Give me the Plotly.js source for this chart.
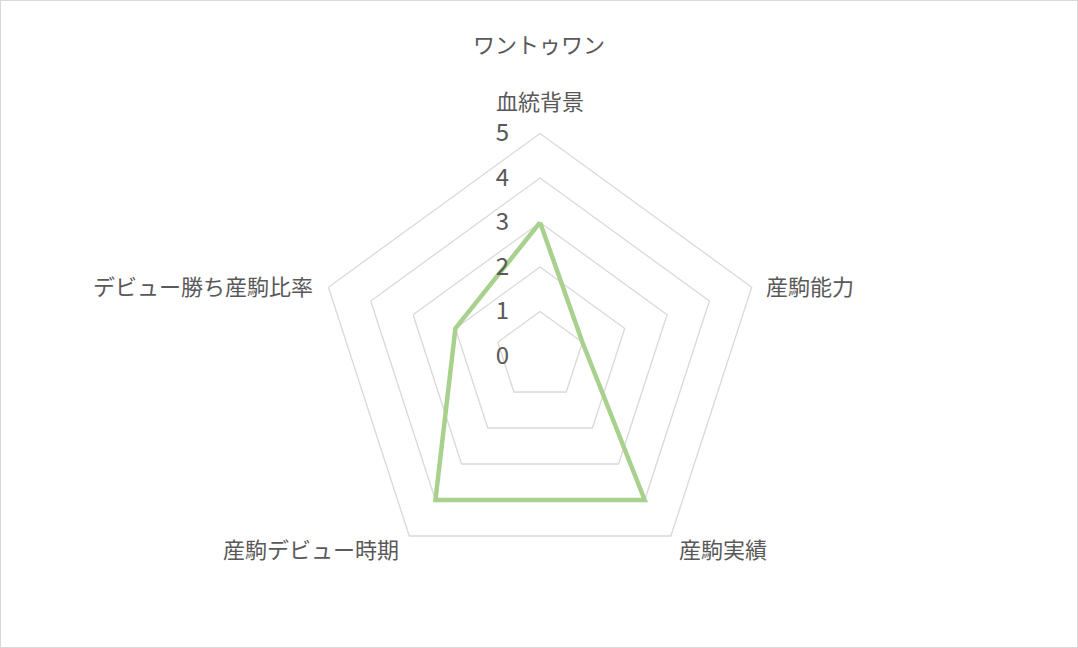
<!DOCTYPE html>
<html>
<head>
<meta charset="utf-8">
<script src="https://cdn.plot.ly/plotly-3.0.1.min.js"></script>
<style>
  html, body { margin: 0; padding: 0; background: #fff; }
  #chart { width: 1078px; height: 648px; box-sizing: border-box; border: 1px solid #d9d9d9; }
</style>
</head>
<body>
<div id="chart"></div>
<script>
// ワントゥワン の評価 (0-5)
const categories = ['血統背景', '産駒能力', '産駒実績', '産駒デビュー時期', 'デビュー勝ち産駒比率']
const scores = [3, 1, 4, 4, 2]
const radialTicks = [0, 1, 2, 3, 4, 5]

const font = '"Noto Sans CJK JP", "Noto Sans", sans-serif'
const grey = '#595959'
const gridColor = '#d9d9d9'

const W = 1076
const H = 646
const dom = { x: [0.294, 0.708], y: [0.106, 0.795] }

const trace = {
  type: 'scatterpolar',
  r: scores.concat([scores[0]]),
  theta: categories.concat([categories[0]]),
  mode: 'lines',
  line: { color: '#a9d18e', width: 4.5 },
  hoverinfo: 'skip'
}

// category labels placed beside each vertex, like Excel does
const cx = (dom.x[0] + dom.x[1]) / 2
const cy = (dom.y[0] + dom.y[1]) / 2
const R = (dom.x[1] - dom.x[0]) * W / 2
const labels = categories.map(function (name, i) {
  const a = (90 - 72 * i) * Math.PI / 180
  const c = Math.cos(a)
  const s = Math.sin(a)
  const ann = {
    text: name,
    showarrow: false,
    xref: 'paper',
    yref: 'paper',
    x: cx + R * c / W,
    y: cy + R * s / H,
    yanchor: 'middle',
    font: { family: font, size: 22, color: grey }
  }
  if (Math.abs(c) < 0.1) {
    ann.xanchor = 'center'
    ann.yshift = 33
  } else if (s > 0) {
    ann.xanchor = c > 0 ? 'left' : 'right'
    ann.xshift = c > 0 ? 12 : -13
    ann.yshift = 2
  } else {
    ann.xanchor = c > 0 ? 'left' : 'right'
    ann.xshift = c > 0 ? 6 : -8
    ann.yshift = -12
  }
  return ann
})

const layout = {
  width: W,
  height: H,
  margin: { l: 0, r: 0, t: 0, b: 0 },
  paper_bgcolor: '#fff',
  showlegend: false,
  title: {
    text: 'ワントゥワン',
    font: { family: font, size: 22, color: grey },
    x: 0.5,
    xanchor: 'center',
    y: 0.932,
    yanchor: 'middle'
  },
  font: { family: font, color: grey },
  annotations: labels,
  polar: {
    domain: dom,
    bgcolor: 'rgba(0,0,0,0)',
    gridshape: 'linear',
    radialaxis: {
      range: [0, 5],
      tickvals: radialTicks,
      angle: 90,
      tickangle: 90,
      side: 'counterclockwise',
      showline: false,
      ticks: 'outside',
      ticklen: 22,
      tickcolor: 'rgba(0,0,0,0)',
      gridcolor: gridColor,
      gridwidth: 1.3,
      tickfont: { family: font, size: 24, color: grey }
    },
    angularaxis: {
      rotation: 90,
      direction: 'clockwise',
      showgrid: false,
      showline: true,
      linecolor: gridColor,
      linewidth: 1.3,
      ticks: '',
      showticklabels: false
    }
  }
}

Plotly.newPlot('chart', [trace], layout, { displayModeBar: false, staticPlot: true })
</script>
</body>
</html>
